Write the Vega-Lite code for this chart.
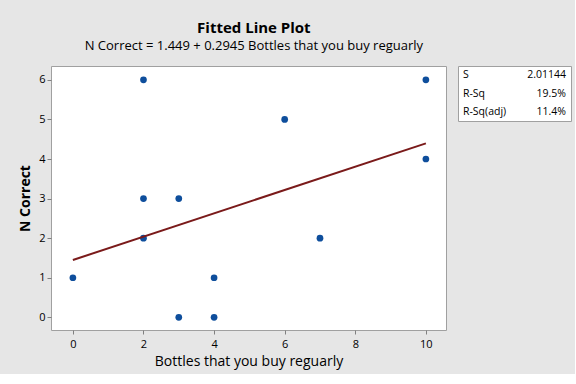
{
  "$schema": "https://vega.github.io/schema/vega-lite/v6.json",
  "background": "#E6E6E6",
  "padding": {"left": 18, "top": 20, "right": 3, "bottom": 5},
  "title": {
    "text": "Fitted Line Plot",
    "subtitle": "N Correct = 1.449 + 0.2945 Bottles that you buy reguarly",
    "font": "Open Sans",
    "fontSize": 15,
    "fontWeight": "bold",
    "color": "#000000",
    "subtitleFont": "Open Sans",
    "subtitleFontSize": 13,
    "subtitleColor": "#000000",
    "subtitlePadding": 4,
    "anchor": "middle",
    "dx": -41,
    "offset": 13
  },
  "config": {
    "view": {"stroke": "#A0A0A0", "fill": "white", "strokeWidth": 1},
    "axis": {
      "domain": false,
      "grid": false,
      "tickColor": "#808080",
      "tickSize": 4,
      "labelFont": "Open Sans",
      "labelFontSize": 11,
      "labelColor": "#000000",
      "titleFont": "Open Sans",
      "titleColor": "#000000"
    }
  },
  "spacing": 10,
  "hconcat": [
    {
      "width": 395,
      "height": 264,
      "layer": [
        {
          "data": {"values": [
            {"bottles": 0, "correct": 1},
            {"bottles": 2, "correct": 6},
            {"bottles": 2, "correct": 3},
            {"bottles": 2, "correct": 2},
            {"bottles": 3, "correct": 3},
            {"bottles": 3, "correct": 0},
            {"bottles": 4, "correct": 1},
            {"bottles": 4, "correct": 0},
            {"bottles": 6, "correct": 5},
            {"bottles": 7, "correct": 2},
            {"bottles": 10, "correct": 6},
            {"bottles": 10, "correct": 4}
          ]},
          "mark": {"type": "point", "filled": true, "size": 45, "color": "#0E4E9C", "opacity": 1},
          "encoding": {
            "x": {"field": "bottles", "type": "quantitative",
                  "scale": {"domain": [-0.62, 10.57], "nice": false, "zero": false},
                  "axis": {"values": [0, 2, 4, 6, 8, 10], "title": "Bottles that you buy reguarly", "titleFontSize": 14, "titleFontWeight": "normal", "titlePadding": 5, "labelPadding": 4}},
            "y": {"field": "correct", "type": "quantitative",
                  "scale": {"domain": [-0.32, 6.35], "nice": false, "zero": false},
                  "axis": {"values": [0, 1, 2, 3, 4, 5, 6], "title": "N Correct", "titleFontSize": 14, "titleFontWeight": "bold", "titlePadding": 6}}
          }
        },
        {
          "data": {"values": [
            {"bottles": 0, "correct": 1.449},
            {"bottles": 10, "correct": 4.394}
          ]},
          "mark": {"type": "line", "color": "#7A1A1A", "strokeWidth": 2},
          "encoding": {
            "x": {"field": "bottles", "type": "quantitative"},
            "y": {"field": "correct", "type": "quantitative"}
          }
        }
      ]
    },
    {
      "width": 113,
      "height": 55,
      "data": {"values": [
        {"row": 0, "label": "S", "value": "2.01144"},
        {"row": 1, "label": "R-Sq", "value": "19.5%"},
        {"row": 2, "label": "R-Sq(adj)", "value": "11.4%"}
      ]},
      "encoding": {
        "y": {"field": "row", "type": "ordinal", "axis": null, "scale": {"paddingOuter": 0.2}}
      },
      "layer": [
        {
          "mark": {"type": "text", "align": "left", "font": "Open Sans", "fontSize": 10.5, "color": "#000000", "dx": 5},
          "encoding": {
            "x": {"datum": 0, "type": "quantitative", "scale": {"domain": [0, 1]}, "axis": null},
            "text": {"field": "label"}
          }
        },
        {
          "mark": {"type": "text", "align": "right", "font": "Open Sans", "fontSize": 10.5, "color": "#000000", "dx": -5},
          "encoding": {
            "x": {"datum": 1, "type": "quantitative"},
            "text": {"field": "value"}
          }
        }
      ]
    }
  ]
}
